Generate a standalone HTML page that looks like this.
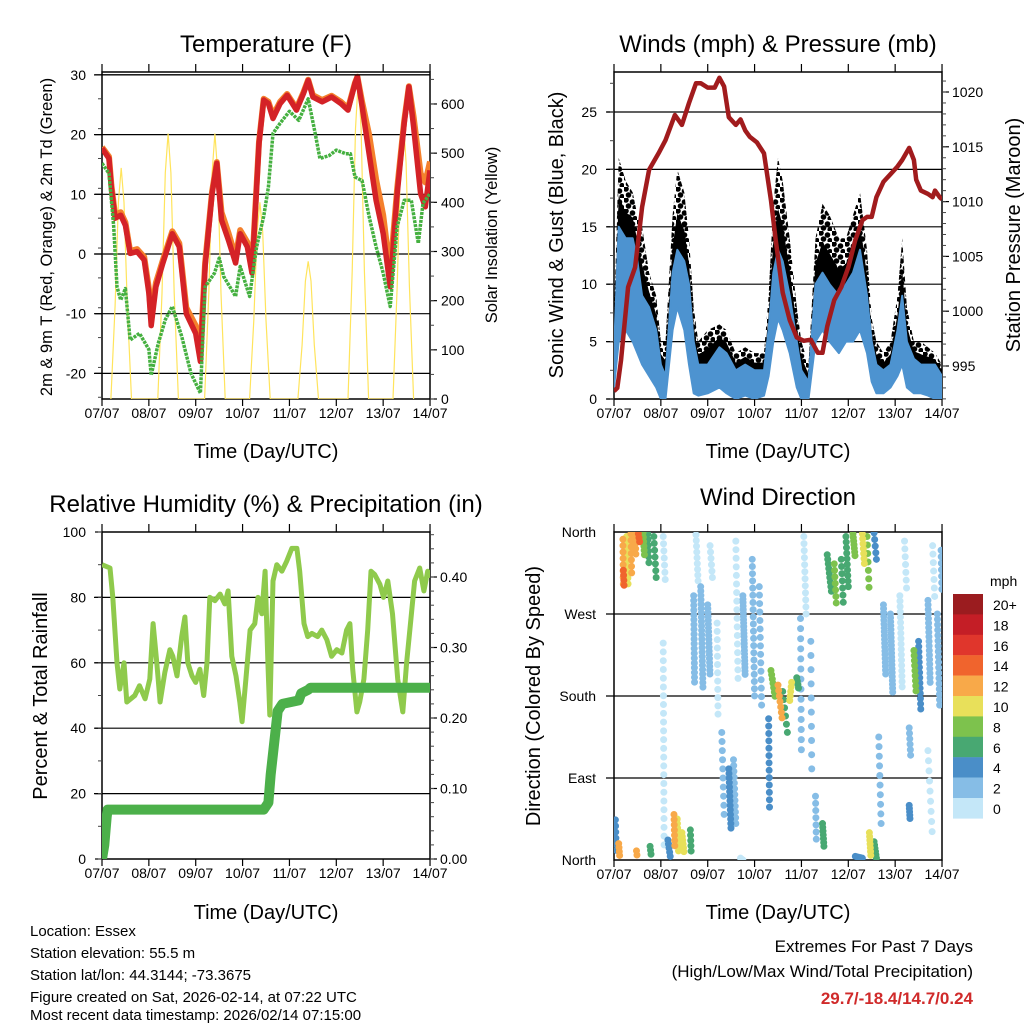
<!DOCTYPE html>
<html><head><meta charset="utf-8"><style>
html,body{margin:0;padding:0;background:#fff;}
svg{display:block;font-family:"Liberation Sans",Arial,sans-serif;}
</style></head><body>
<svg id="root" width="1024" height="1024" viewBox="0 0 1024 1024" xmlns="http://www.w3.org/2000/svg">
<defs>
<clipPath id="cT"><rect x="102" y="72" width="328" height="327"/></clipPath>
<clipPath id="cW"><rect x="614" y="72" width="328" height="327"/></clipPath>
<clipPath id="cR"><rect x="102" y="532" width="328" height="327"/></clipPath>
<clipPath id="cD"><rect x="614" y="532" width="328" height="328"/></clipPath>
<pattern id="dots" patternUnits="userSpaceOnUse" width="13" height="11">
<circle cx="2" cy="2" r="2.8" fill="#000"/><circle cx="8.5" cy="4" r="2.8" fill="#000"/>
<circle cx="4.5" cy="8" r="2.8" fill="#000"/><circle cx="11" cy="9.5" r="2.6" fill="#000"/>
</pattern>
</defs>
<text x="266" y="52" font-size="24" text-anchor="middle">Temperature (F)</text>
<text x="778" y="52" font-size="24" text-anchor="middle">Winds (mph) &amp; Pressure (mb)</text>
<text x="266" y="512" font-size="24" text-anchor="middle">Relative Humidity (%) &amp; Precipitation (in)</text>
<text x="778" y="505" font-size="24" text-anchor="middle">Wind Direction</text>
<text transform="translate(52,237) rotate(-90)" font-size="16.5" text-anchor="middle">2m &amp; 9m T (Red, Orange) &amp; 2m Td (Green)</text>
<text transform="translate(497,235) rotate(-90)" font-size="16.5" text-anchor="middle">Solar Insolation (Yellow)</text>
<text transform="translate(563,235) rotate(-90)" font-size="20" text-anchor="middle">Sonic Wind &amp; Gust (Blue, Black)</text>
<text transform="translate(1020,235) rotate(-90)" font-size="20" text-anchor="middle">Station Pressure (Maroon)</text>
<text transform="translate(47,696) rotate(-90)" font-size="20" text-anchor="middle">Percent &amp; Total Rainfall</text>
<text transform="translate(540,696) rotate(-90)" font-size="20" text-anchor="middle">Direction (Colored By Speed)</text>
<text x="266" y="458" font-size="20" text-anchor="middle">Time (Day/UTC)</text>
<text x="778" y="458" font-size="20" text-anchor="middle">Time (Day/UTC)</text>
<text x="266" y="919" font-size="20" text-anchor="middle">Time (Day/UTC)</text>
<text x="778" y="919" font-size="20" text-anchor="middle">Time (Day/UTC)</text>
<g font-size="15">
<text x="30" y="936">Location: Essex</text>
<text x="30" y="958">Station elevation: 55.5 m</text>
<text x="30" y="980">Station lat/lon: 44.3144; -73.3675</text>
<text x="30" y="1002">Figure created on Sat, 2026-02-14, at 07:22 UTC</text>
<text x="30" y="1024" dy="-4">Most recent data timestamp: 2026/02/14 07:15:00</text>
</g>
<g font-size="17" text-anchor="end">
<text x="973" y="952">Extremes For Past 7 Days</text>
<text x="973" y="977">(High/Low/Max Wind/Total Precipitation)</text>
<text x="973" y="1004" fill="#d02a2a" font-weight="bold">29.7/-18.4/14.7/0.24</text>
</g>
<g id="layer"></g>
</svg>
<script>
const dayLabels = ["07/07","08/07","09/07","10/07","11/07","12/07","13/07","14/07"];
const tempTicks = [30,20,10,0,-10,-20];
const solarTicks = [0,100,200,300,400,500,600];
const windTicks = [0,5,10,15,20,25];
const pressTicks = [995,1000,1005,1010,1015,1020];
const rhTicks = [0,20,40,60,80,100];
const rainTicks = [0,0.1,0.2,0.3,0.4];
const dirTicks = [0,90,180,270,360];
const dirLabels = ["North","East","South","West","North"];

const tRed = [0,0.15,0.2,0.28,0.4,0.5,0.6,0.75,0.9,1.0,1.05,1.15,1.3,1.5,1.65,1.8,2.0,2.1,2.2,2.35,2.45,2.55,2.7,2.85,2.95,3.1,3.2,3.35,3.45,3.55,3.65,3.8,3.95,4.15,4.3,4.4,4.5,4.7,4.9,5.1,5.25,5.4,5.45,5.55,5.7,5.85,6.0,6.15,6.3,6.45,6.55,6.65,6.8,6.9,7.0];
const red = [17.7,16,11,6,6.5,4.8,0.1,0.4,-1,-6.6,-12,-5.5,-1.5,3.4,1.2,-10,-13.3,-18,-2.1,10.1,15.2,5.7,2.3,-1.5,3.4,1.2,-3.2,18.5,25.8,25.2,22.7,25.2,26.6,24.1,26.9,29.1,26.3,25.5,26.3,25.2,24.1,28.6,29.7,24.7,16.8,9,3.4,-5.5,10.1,21.9,28,21.3,10.1,7.9,14];
const orange = [17.9,16.3,11.5,6.5,7,5.3,0.5,0.8,-0.5,-5.8,-10.5,-4.8,-1,3.8,1.8,-9,-12,-16.5,-1.5,10.5,15.4,7,3.5,-0.5,4,2,-2.5,18.8,26,25.5,23.2,25.5,26.8,24.4,27.1,29.2,26.6,25.8,26.5,25.5,24.4,28.7,29.7,25.5,20,12.5,6.5,-3,11,22.3,28.1,23,13.5,12,15.5];
const tGreen = [0,0.15,0.25,0.32,0.4,0.5,0.6,0.8,1.0,1.05,1.2,1.35,1.5,1.7,1.9,2.1,2.2,2.4,2.5,2.6,2.85,2.95,3.15,3.3,3.45,3.55,3.65,3.8,4.0,4.2,4.4,4.55,4.65,4.85,5.0,5.2,5.3,5.4,5.55,5.7,5.85,6.0,6.15,6.3,6.45,6.6,6.75,6.85,7.0];
const green = [15.2,13.5,4.6,-5.5,-7.7,-5.8,-14.4,-13.3,-16,-20.3,-15,-11,-8.8,-13.8,-20,-23.3,-5.5,-3.2,-0.7,-3.8,-7.1,-2.1,-7.1,1.2,6.3,11.2,20.2,21.9,23.9,22.4,26,20.2,16,16.5,17.4,16.8,16.8,12.9,12.3,6.3,1.2,-3.2,-8.8,4.6,9,9,1.8,8.5,10.1];
const tSolar = [0.19,0.28,0.35,0.41,0.47,0.54,0.63, 1.19,1.28,1.35,1.41,1.47,1.54,1.63, 2.19,2.28,2.35,2.41,2.47,2.54,2.63, 3.15,3.24,3.31,3.37,3.43,3.5,3.59, 4.18,4.27,4.34,4.4,4.46,4.53,4.62, 5.25,5.34,5.41,5.47,5.53,5.6,5.69, 6.21,6.3,6.37,6.43,6.49,6.56,6.65];
const solar = [0,190,400,470,400,190,0, 0,215,460,540,460,215,0, 0,215,460,540,460,215,0, 0,160,340,400,340,160,0, 0,110,240,280,240,110,0, 0,260,550,650,550,260,0, 0,230,480,570,480,230,0];

const tWind = [0,0.1,0.25,0.4,0.5,0.6,0.75,0.9,1.0,1.1,1.25,1.35,1.5,1.6,1.7,1.8,2.0,2.25,2.4,2.6,2.8,3.0,3.2,3.3,3.4,3.5,3.6,3.75,3.9,4.0,4.15,4.3,4.45,4.6,4.8,4.95,5.1,5.25,5.4,5.5,5.6,5.75,5.9,6.05,6.15,6.25,6.4,6.55,6.7,6.85,7.0];
const gustHi = [7,21,19,18,16,15,11,9,5,5,16,20,18,14,8,5,6,6.5,6,4,4.5,4,4,9,17,21,19,14,8,5,3,14,17,16,14,14,16,18,13,7,5,4,5,9,14,8,5,5,4.5,4,3];
const windHi = [4,15,14,14,12,9,8,6,3,2,11,13,12,10,5,3,3,4.5,4,2.5,3,2.5,2.5,6,11,13,12,9,5,2.5,1.5,10,11,10,9,10,11,13,9,5,3,2.5,3,6,9,5,3.5,3,3,3,2];
const windLo = [1,5,6,5,4,3,2,1,0,0,6,8,6,3,0.5,0.3,0.5,1,0.5,0,0.3,0,0.3,2,5,7,6,4,1,0,0,5,6,5,4,5,5,6,4,1.5,0.5,0.5,1,2,3,1,0.5,0.5,0.3,0,0];
const tPress = [0,0.07,0.15,0.3,0.45,0.6,0.75,0.95,1.1,1.3,1.45,1.6,1.75,1.85,2.0,2.15,2.25,2.35,2.45,2.6,2.7,2.8,2.9,3.05,3.2,3.35,3.45,3.6,3.75,3.9,4.05,4.2,4.35,4.45,4.55,4.7,4.85,5.0,5.15,5.3,5.4,5.5,5.6,5.75,5.9,6.05,6.15,6.3,6.4,6.45,6.55,6.7,6.8,6.85,6.95,7.0];
const press = [992.7,993,995.5,1002.2,1004,1009.5,1012.9,1014.4,1015.6,1017.9,1017,1019,1020.8,1020.8,1020.4,1020.4,1021.3,1020.5,1017.7,1017,1017.5,1016.5,1015.9,1015.4,1014.4,1010.1,1006.5,1001.7,999.2,997.6,997.3,997.4,996.2,996.2,998.6,1001,1002.2,1004,1006.5,1008.3,1008.6,1008.6,1010.4,1011.8,1012.5,1013.2,1013.8,1014.9,1013.8,1012,1011,1010.7,1010.4,1011,1010.4,1010.2];

const tRH = [0,0.17,0.23,0.32,0.38,0.47,0.53,0.7,0.8,0.92,1.02,1.09,1.17,1.24,1.34,1.45,1.51,1.6,1.7,1.77,1.83,1.92,2.0,2.09,2.17,2.24,2.3,2.41,2.52,2.62,2.69,2.77,2.86,2.94,2.99,3.07,3.16,3.26,3.33,3.41,3.48,3.54,3.58,3.65,3.73,3.84,3.94,4.05,4.16,4.22,4.31,4.39,4.48,4.6,4.69,4.8,4.9,5.01,5.12,5.22,5.29,5.35,5.44,5.5,5.59,5.67,5.74,5.82,5.93,6.01,6.1,6.2,6.31,6.42,6.5,6.59,6.67,6.78,6.87,6.95,7.0];
const rh = [90,89,80,60,52,60,48,50,53,49,55,72,60,48,57,64,62,56,68,74,60,56,54,58,50,60,80,79,81,78,82,62,56,48,42,55,70,72,80,75,88,60,44,85,90,88,91,95,95,88,72,68,69,68,70,67,62,64,63,70,72,58,45,48,55,70,88,87,84,80,85,75,55,45,60,73,85,89,82,88,86];
const tRain = [0,0.05,0.1,0.12,3.45,3.55,3.6,3.7,3.75,3.85,4.2,4.25,4.4,4.45,7.0];
const rain = [0,0.02,0.06,0.07,0.07,0.08,0.12,0.18,0.21,0.22,0.225,0.235,0.24,0.243,0.243];

// [t1, dir1, t2, dir2, speed, count]
const dirStreaks = [
[0.19,352,0.2,296,13,9],[0.2,318,0.22,296,15,5],[0.27,355,0.3,303,11,9],[0.36,358,0.38,308,12,8],[0.45,359,0.47,330,12,6],[0.52,358,0.56,345,15,4],[0.62,359,0.65,335,8,6],[0.72,358,0.75,320,6,7],[0.85,355,0.9,310,6,7],
[1.05,355,1.1,300,1,8],[1.05,238,1.07,7,1,25],[1.28,50,1.3,10,12,8],[1.35,45,1.38,5,11,9],[1.45,30,1.5,5,10,7],[1.63,33,1.65,4,7,6],[1.15,22,1.2,4,4,5],
[0.03,44,0.05,4,4,7],[0.1,18,0.12,5,13,4],[0.48,10,0.5,1,12,3],[0.77,15,0.8,2,6,4],
[1.7,290,1.72,190,2,20],[1.85,300,1.9,185,3,25],[2.0,280,2.05,200,2,20],[2.2,260,2.22,160,1,12],[1.75,357,1.8,300,1,10],[2.05,345,2.1,310,1,6],
[2.3,140,2.35,50,3,10],[2.45,100,2.5,30,4,15],[2.55,110,2.6,40,3,12],
[2.6,350,2.65,190,1,18],[2.75,290,2.8,200,3,25],[2.95,330,3.0,180,2,20],[3.1,300,3.15,170,3,15],[2.7,2,2.75,0,1,3],
[3.35,208,3.45,175,8,8],[3.5,192,3.6,150,12,8],[3.6,185,3.7,140,7,6],[3.75,175,3.8,200,10,6],[3.9,200,3.95,185,7,5],
[3.3,155,3.32,50,4,14],[3.98,265,4.0,110,3,15],[4.2,240,4.22,100,2,10],[4.05,355,4.1,270,1,12],[4.3,70,4.32,15,3,8],[4.45,40,4.48,15,6,7],
[4.55,335,4.65,290,7,10],[4.7,325,4.75,275,8,8],[4.85,330,4.9,275,6,8],[4.95,355,5.0,300,7,10],[5.1,358,5.15,330,8,8],[5.3,358,5.35,320,10,8],[5.4,355,5.45,290,8,8],[5.55,359,5.6,330,4,5],
[5.15,4,5.3,2,5,6],[5.45,30,5.48,5,10,7],[5.55,20,5.6,2,7,6],[5.65,135,5.7,40,2,10],
[5.75,280,5.8,200,3,20],[5.9,270,5.95,180,2,22],[6.1,290,6.15,190,1,18],[6.4,230,6.45,180,8,10],[6.5,240,6.55,160,4,15],[6.7,285,6.75,190,2,20],[6.9,270,6.95,170,3,18],
[6.3,145,6.33,115,3,6],[6.3,60,6.32,42,4,6],[6.2,350,6.25,290,1,8],[6.8,345,6.85,280,1,8],[6.98,340,7.0,290,2,8],[6.7,120,6.8,20,1,10]
];
const speedBins = ["20+","18","16","14","12","10","8","6","4","2","0"];
const binColors = ["#9b1c1f","#c41e26","#e0362c","#f0642d","#f8a949","#e8e05a","#7dc24d","#48a872","#4a8ec8","#86bde6","#c4e7f8"];

const NS="http://www.w3.org/2000/svg";
const layer=document.getElementById('layer');
function mk(tag,attrs,parent){const e=document.createElementNS(NS,tag);for(const k in attrs)e.setAttribute(k,attrs[k]);(parent||layer).appendChild(e);return e;}
const XT=t=>102+t*46.86, XW=t=>614+t*46.86;
const Yt=v=>254-v*5.97, Ys=s=>399-s*0.4917;
const Yw=v=>399-v*11.48, Yp=p=>366-(p-995)*10.96;
const Yr=v=>859-v*3.27, Yq=q=>859-q*705;
const Yd=d=>532+(360-d)/360*328;
function pathOf(ts,vs,fx,fy){return ts.map((t,i)=>(i?'L':'M')+fx(t).toFixed(1)+','+fy(vs[i]).toFixed(1)).join('');}
function band(ts,lo,hi,fx,fy){let d=ts.map((t,i)=>(i?'L':'M')+fx(t).toFixed(1)+','+fy(hi[i]).toFixed(1)).join('');for(let i=ts.length-1;i>=0;i--)d+='L'+fx(ts[i]).toFixed(1)+','+fy(lo[i]).toFixed(1);return d+'Z';}

function frame(x0,y0,h,name,gridVals,fy){
  const g=mk('g',{});
  
  
  gridVals.forEach(v=>{const y=fy(v);const l=mk('line',{x1:x0-8,x2:x0+328,y1:y,y2:y,stroke:'#000','stroke-width':1.2},g);
    
    });
  for(let i=0;i<8;i++){const x=x0+i*46.86;
    const a=mk('line',{x1:x,x2:x,y1:y0+h,y2:y0+h+7,stroke:'#000','stroke-width':1.2},g);
    
    
    const b=mk('line',{x1:x,x2:x,y1:y0,y2:y0-8,stroke:'#000','stroke-width':1.2},g);
    
    
    const tx=mk('text',{x:x,y:y0+h+19,'font-size':14,'text-anchor':'middle'},g);tx.textContent=dayLabels[i];
    
    }
  const r=mk('rect',{x:x0,y:y0,width:328,height:h,fill:'none',stroke:'#000','stroke-width':1.5},g);
  
  
  return g;
}
function yLabels(vals,fy,x,anchor,fmt,name,tickX,tickDir){
  vals.forEach(v=>{const y=fy(v);
    const t=mk('text',{x:x,y:y+5,'font-size':14,'text-anchor':anchor});t.textContent=fmt(v);
    
    
    const l=mk('line',{x1:tickX,x2:tickX+7*tickDir,y1:y,y2:y,stroke:'#000','stroke-width':1.2});
    
    });
}
function minor(lo,hi,step,fy,tickX,dir,ya,yb){for(let v=lo;v<=hi+1e-9;v+=step){const y=fy(v);if(y<ya||y>yb)continue;mk('line',{x1:tickX,x2:tickX+4*dir,y1:y,y2:y,stroke:'#444','stroke-width':1});}}

/* ---------- Temperature panel ---------- */
frame(102,72,327,'temperature',tempTicks,Yt);
yLabels(tempTicks,Yt,86,'end',v=>v,'temperature-y',102,-1);
yLabels(solarTicks,Ys,441,'start',v=>v,'solar-y',430,1);
minor(-24,31,5,Yt,102,-1,72,399.5); minor(0,660,50,Ys,430,1,72,399.5);
const gT=mk('g',{'clip-path':'url(#cT)'});


let p=mk('path',{d:pathOf(tSolar,solar,XT,Ys),fill:'none',stroke:'#ffe45c','stroke-width':1.2},gT);


p=mk('path',{d:pathOf(tRed,orange,XT,Yt),fill:'none',stroke:'#f4802c','stroke-width':6,'stroke-linejoin':'round'},gT);


p=mk('path',{d:pathOf(tRed,red,XT,Yt),fill:'none',stroke:'#d42227','stroke-width':5.5,'stroke-linejoin':'round'},gT);


p=mk('path',{d:pathOf(tGreen,green,XT,Yt),fill:'none',stroke:'#45b040','stroke-width':3.5,'stroke-dasharray':'3 1','stroke-linejoin':'round'},gT);


mk('line',{x1:102,x2:430,y1:Yt(30),y2:Yt(30),stroke:'#000','stroke-width':1.2});

/* ---------- Winds panel ---------- */
frame(614,72,327,'winds',windTicks,Yw);
yLabels(windTicks,Yw,597,'end',v=>v,'wind-y',614,-1);
yLabels(pressTicks,Yp,952,'start',v=>v,'pressure-y',942,1);
minor(0,28,2.5,Yw,614,-1,72,399.5); minor(992,1023,1,Yp,942,1,72,399.5);
const gW=mk('g',{'clip-path':'url(#cW)'});


p=mk('path',{d:band(tWind,windLo,gustHi,XW,Yw),fill:'url(#dots)',stroke:'none'},gW);


const gustMid=gustHi.map((g,i)=>windHi[i]+(g-windHi[i])*0.45);
p=mk('path',{d:band(tWind,windHi,gustMid,XW,Yw),fill:'#000',stroke:'none'},gW);


p=mk('path',{d:band(tWind,windLo,windHi,XW,Yw),fill:'#4d93d0',stroke:'#4d93d0','stroke-width':2,'stroke-linejoin':'round'},gW);


p=mk('path',{d:pathOf(tPress,press,XW,Yp),fill:'none',stroke:'#a11b1d','stroke-width':4.5,'stroke-linejoin':'round'},gW);



/* ---------- Humidity panel ---------- */
frame(102,532,327,'humidity',rhTicks.slice(1,5),Yr);
yLabels(rhTicks,Yr,86,'end',v=>v,'humidity-y',102,-1);
yLabels(rainTicks,Yq,440,'start',v=>v.toFixed(2),'rain-y',430,1);
minor(0,100,10,Yr,102,-1,532,859.5); minor(0,0.46,0.02,Yq,430,1,532,859.5);
const gR=mk('g',{'clip-path':'url(#cR)'});


p=mk('path',{d:pathOf(tRH,rh,XT,Yr),fill:'none',stroke:'#8fca4c','stroke-width':5,'stroke-linejoin':'round'},gR);


p=mk('path',{d:pathOf(tRain,rain,XT,Yq),fill:'none',stroke:'#4cb04a','stroke-width':10,'stroke-linejoin':'round','stroke-linecap':'round'},gR);



/* ---------- Wind direction panel ---------- */
frame(614,532,328,'direction',[90,180,270],Yd);
dirTicks.forEach((d,i)=>{const t=mk('text',{x:596,y:Yd(d)+5,'font-size':14,'text-anchor':'end'});t.textContent=dirLabels[i];
  
  });
const gD=mk('g',{'clip-path':'url(#cD)'});


function binOf(s){let b=Math.floor(s/2);if(b>10)b=10;return 10-b;}
dirStreaks.slice().sort((a,b)=>a[4]-b[4]).forEach(s=>{
  const x1=XW(s[0]),y1=Yd(s[1]),x2=XW(s[2]),y2=Yd(s[3]);
  const len=Math.hypot(x2-x1,y2-y1);const gap=s[5]>1?len/(s[5]-1):1;
  const l=mk('line',{x1:x1,y1:y1,x2:x2,y2:y2,stroke:binColors[binOf(s[4])],'stroke-width':7,'stroke-linecap':'round','stroke-dasharray':'0 '+Math.max(gap,0.01).toFixed(2)},gD);
  
  
});
/* colorbar */
const cb=mk('g',{});


let ut=mk('text',{x:990,y:586,'font-size':14},cb);ut.textContent='mph';


speedBins.forEach((lab,i)=>{const y=594+i*20.4;
  const r=mk('rect',{x:953,y:y,width:30,height:20.6,fill:binColors[i]},cb);
  
  
  const t=mk('text',{x:993,y:y+16,'font-size':14},cb);t.textContent=lab;
  
  });
</script>
</body></html>
